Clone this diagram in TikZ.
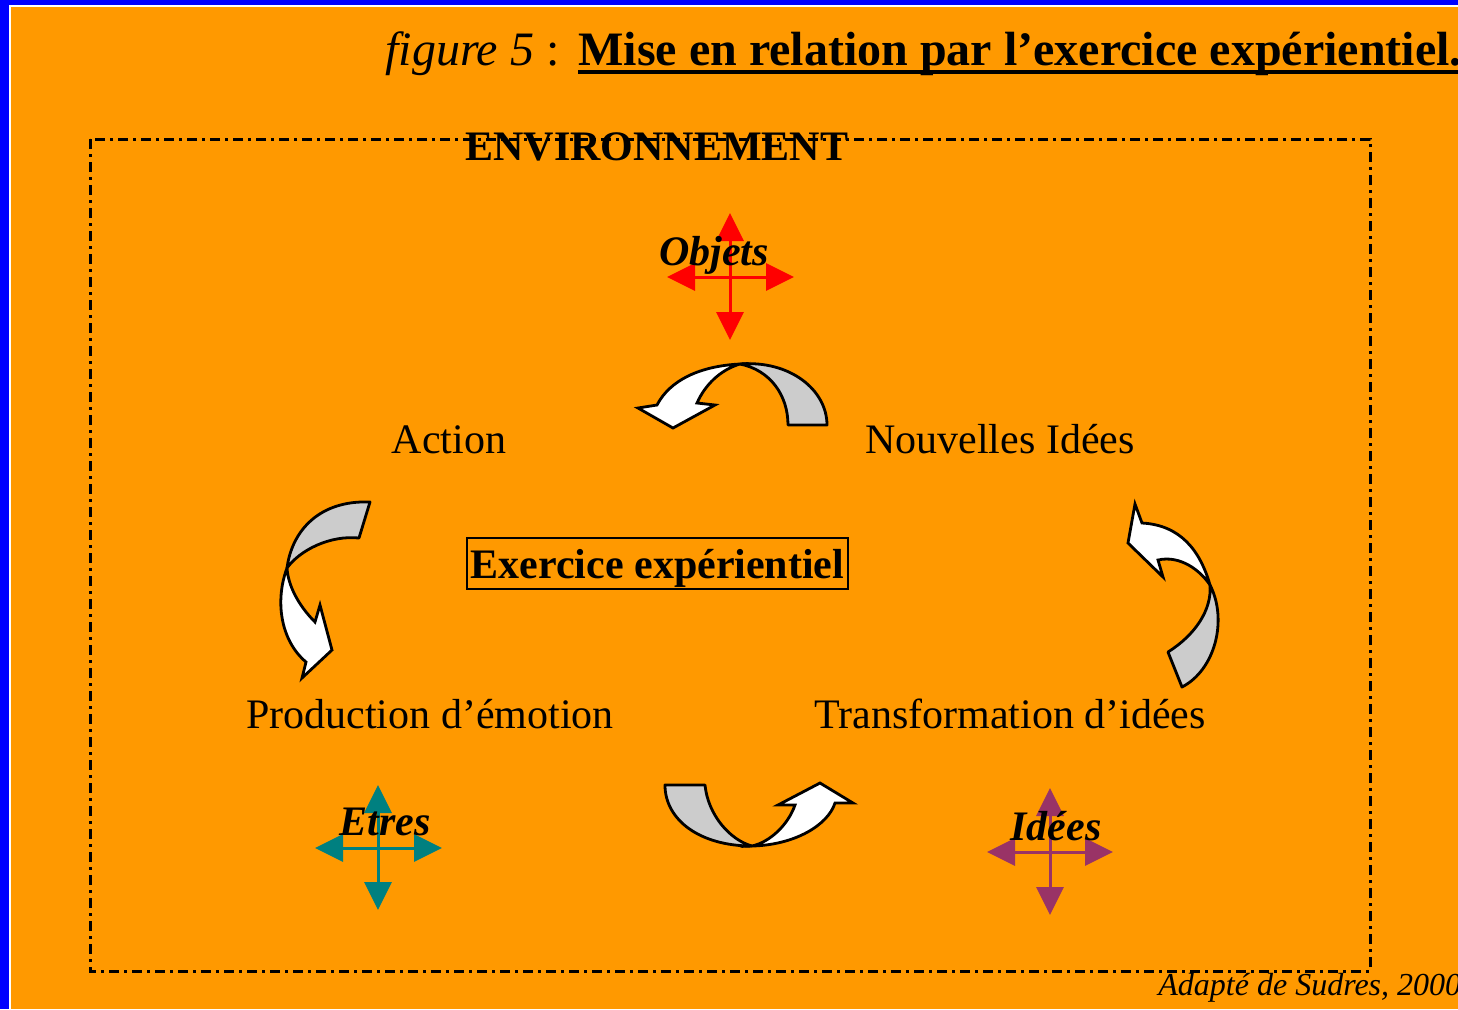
\documentclass[tikz,border=0pt]{standalone}
\usepackage{fontspec}
\setmainfont{Liberation Serif}
\usetikzlibrary{arrows.meta,calc}
\definecolor{bgorange}{HTML}{FF9900}
\definecolor{bgblue}{HTML}{0000FF}
\definecolor{xteal}{HTML}{008080}
\definecolor{xpurple}{HTML}{993366}
\definecolor{xred}{HTML}{FF0000}
\definecolor{xgray}{HTML}{CCCCCC}
\begin{document}
\begin{tikzpicture}[x=0.5pt,y=-0.5pt,
  lbl/.style={font=\fontsize{21}{25}\selectfont, inner sep=0, anchor=base},
  tag/.style={font=\fontsize{21}{25}\selectfont\bfseries\itshape, inner sep=0, anchor=base},
  back/.style={draw=black, line width=1.4pt, fill=xgray, line join=round},
  front/.style={draw=black, line width=1.4pt, fill=white, line join=miter},
  crossline/.style={line width=1.5pt, -{Triangle[length=14pt,width=13.5pt]}},
  envline/.style={line width=1.5pt, dash pattern=on 5pt off 2.5pt on 1.5pt off 2.5pt},
]
\useasboundingbox (0,0) rectangle (1458,1009);
% background
\fill[bgblue] (0,0) rectangle (1458,1009);
\fill[white] (9,5) rectangle (1458,1009);
\fill[bgorange] (11,7) rectangle (1458,1009);

% title
\node[anchor=base west, inner sep=0, font=\fontsize{24}{28}\selectfont] (t1) at (385,65) {\textit{figure 5} :};
\node[anchor=base west, inner sep=0, font=\fontsize{24}{28}\selectfont\bfseries] (t2) at (578,65) {Mise en relation par l’exercice expérientiel.};
\draw[line width=2pt] ([yshift=-3.25pt]t2.base west) -- ([yshift=-3.25pt]t2.base east);

% environment frame
\draw[envline] (90,139) rectangle (1370,971);
\node[font=\fontsize{21}{25}\selectfont\bfseries, anchor=base, inner sep=0] (env) at (657,160) {ENVIRONNEMENT};

% crosses
\coordinate (oc) at (730,277); \coordinate (ot) at (730,213); \coordinate (ob) at (730,340);
\coordinate (ol) at (667,277); \coordinate (or) at (794,277);
\draw[crossline, xred] (oc) -- (ot);
\draw[crossline, xred] (oc) -- (ob);
\draw[crossline, xred] (oc) -- (ol);
\draw[crossline, xred] (oc) -- (or);
\node[tag] (objets) at (714,265) {Objets};

\coordinate (ec) at (378,848); \coordinate (et) at (378,785); \coordinate (eb) at (378,910);
\coordinate (el) at (315,848); \coordinate (er) at (442,848);
\draw[crossline, xteal] (ec) -- (et);
\draw[crossline, xteal] (ec) -- (eb);
\draw[crossline, xteal] (ec) -- (el);
\draw[crossline, xteal] (ec) -- (er);
\node[tag] (etres) at (385,835) {Etres};

\coordinate (ic) at (1050,852); \coordinate (it) at (1050,788); \coordinate (ib) at (1050,915);
\coordinate (il) at (987,852); \coordinate (ir) at (1113,852);
\draw[crossline, xpurple] (ic) -- (it);
\draw[crossline, xpurple] (ic) -- (ib);
\draw[crossline, xpurple] (ic) -- (il);
\draw[crossline, xpurple] (ic) -- (ir);
\node[tag] (idees) at (1056,840) {Idées};

% labels
\node[lbl] (action) at (449,453) {Action};
\node[lbl] (nouv) at (1000,453) {Nouvelles Idées};
\node[lbl] (prod) at (430,728) {Production d’émotion};
\node[lbl] (trans) at (1010,728) {Transformation d’idées};
\node[draw, line width=1pt, inner sep=0, minimum width=190.5pt, minimum height=25.5pt] (exbox) at (657.5,563.5) {};
\node[font=\fontsize{21}{25}\selectfont\bfseries, inner sep=0, anchor=base] (ex) at (657.5,578) {Exercice expérientiel};

% curved arrows: top
\path[back] (740,364) .. controls (790,360) and (827,390) .. (827,425) -- (788,425) .. controls (788,395) and (770,370) .. (740,364) -- cycle;
\path[front] (740,364) .. controls (700,366) and (670,380) .. (657,405) -- (638,408) -- (673,428) -- (715,405) -- (697,403) .. controls (705,385) and (720,370) .. (740,364) -- cycle;
% left
\path[back] (370,502) .. controls (320,500) and (292,530) .. (287,568) .. controls (300,550) and (330,535) .. (359,538) -- cycle;
\path[front] (287,568) .. controls (275,600) and (280,640) .. (306,662) -- (302,678) -- (332,650) -- (320,605) -- (315,622) .. controls (298,605) and (288,585) .. (287,568) -- cycle;
% right
\path[back] (1182,687) .. controls (1215,670) and (1228,620) .. (1210,585) .. controls (1212,610) and (1195,635) .. (1168,652) -- cycle;
\path[front] (1210,585) .. controls (1200,550) and (1180,525) .. (1142,523) -- (1135,504) -- (1128,543) -- (1163,577) -- (1158,560) .. controls (1180,555) and (1200,570) .. (1210,585) -- cycle;
% bottom
\path[back] (665,785) .. controls (665,820) and (700,846) .. (752,846) .. controls (730,840) and (708,815) .. (705,785) -- cycle;
\path[front] (752,846) .. controls (795,845) and (828,825) .. (835,803) -- (853,803) -- (820,783) -- (778,805) -- (795,805) .. controls (788,825) and (770,842) .. (752,846) -- cycle;

% source
\node[anchor=base west, inner sep=0, font=\fontsize{16}{19}\selectfont\itshape] (src) at (1158,995) {Adapté de Sudres, 2000};
\end{tikzpicture}
\end{document}
